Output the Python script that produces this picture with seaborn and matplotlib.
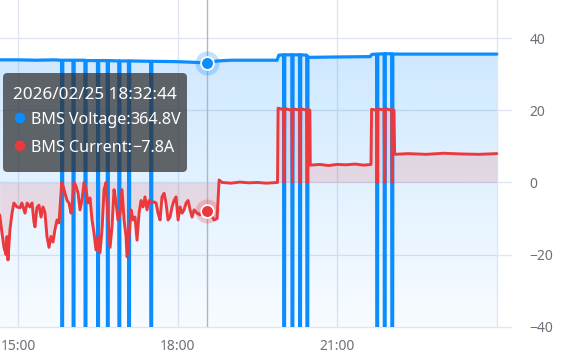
import numpy as np
import pandas as pd
import matplotlib
matplotlib.use("Agg")
import matplotlib.pyplot as plt
import matplotlib.dates as mdates
from matplotlib.patches import FancyBboxPatch
import seaborn as sns

# ---------------- data ----------------
DAY = "2026-02-25"

volt_times = ["14:39:00", "15:00:00", "15:20:00", "15:40:00",
              "15:48:50", "15:49:30", "15:50:10",
              "16:01:40", "16:02:20", "16:03:00",
              "16:15:10", "16:15:50", "16:16:30",
              "16:29:20", "16:30:00", "16:30:40",
              "16:40:20", "16:41:00", "16:41:40",
              "16:53:20", "16:54:00", "16:54:40",
              "17:04:20", "17:05:00", "17:05:40",
              "17:29:20", "17:30:00", "17:30:40",
              "18:00:00", "18:20:00", "18:32:44", "18:45:00", "19:00:00", "19:30:00",
              "19:52:00", "19:54:00",
              "19:59:20", "20:00:00", "20:00:40",
              "20:08:40", "20:09:20", "20:10:00",
              "20:17:20", "20:18:00", "20:18:40",
              "20:25:30", "20:26:10", "20:26:50",
              "20:29:00", "21:00:00", "21:37:00", "21:39:00",
              "21:44:20", "21:45:00", "21:45:40",
              "21:52:50", "21:53:30", "21:54:10",
              "22:01:20", "22:02:00", "22:02:40",
              "23:00:00", "24:00:00"]
volt_values = [34.0, 34.0, 33.9, 34.0,
               33.9, -200, 33.9,
               33.9, -200, 33.9,
               33.9, -200, 33.8,
               33.8, -200, 33.8,
               33.8, -200, 33.8,
               33.7, -200, 33.7,
               33.7, -200, 33.7,
               33.6, -200, 33.6,
               33.5, 33.3, 33.15, 33.7, 33.9, 33.9,
               33.9, 35.3,
               35.4, -200, 35.4,
               35.4, -200, 35.4,
               35.4, -200, 35.4,
               35.3, -200, 34.8,
               34.7, 34.8, 34.9, 35.5,
               35.6, -200, 35.6,
               35.7, -200, 35.7,
               35.7, -200, 35.6,
               35.6, 35.6]

curr_times = ["14:39:00", "14:41:35", "14:43:50", "14:46:05", "14:47:15", "14:48:20",
              "14:50:35", "14:52:55", "14:55:00", "14:58:30", "15:02:00", "15:04:00",
              "15:07:30", "15:10:00", "15:13:00", "15:15:30", "15:17:40", "15:18:50",
              "15:21:00", "15:23:20", "15:25:40", "15:27:50", "15:30:00", "15:32:20",
              "15:34:40", "15:36:50", "15:39:10", "15:41:25", "15:43:40", "15:45:55",
              "15:49:00", "15:50:25", "15:52:40", "15:55:00", "15:57:10", "15:59:30",
              "16:00:35", "16:02:50", "16:05:05", "16:07:25", "16:09:40", "16:11:55",
              "16:14:10", "16:16:25", "16:18:40", "16:20:55", "16:23:10", "16:25:25",
              "16:27:40", "16:30:00", "16:32:10", "16:34:30", "16:36:45", "16:39:00",
              "16:41:15", "16:43:30", "16:45:45", "16:48:00", "16:50:20", "16:52:30",
              "16:54:50", "16:57:00", "16:59:20", "17:01:35", "17:02:40", "17:04:55",
              "17:07:10", "17:09:30", "17:11:40", "17:14:00", "17:16:15", "17:18:30",
              "17:20:45", "17:23:00", "17:25:15", "17:27:30", "17:29:50", "17:33:10",
              "17:35:25", "17:37:40", "17:40:00", "17:42:10", "17:44:30", "17:46:40",
              "17:49:00", "17:51:15", "17:53:30", "17:55:45", "17:58:00", "18:00:20",
              "18:02:30", "18:04:50", "18:07:05", "18:09:20", "18:11:35", "18:13:50",
              "18:16:05", "18:18:20", "18:21:40", "18:25:05", "18:28:30", "18:32:44",
              "18:36:25", "18:40:55", "18:44:20", "18:46:35", "18:50:00", "19:00:00",
              "19:10:00", "19:20:00", "19:30:00", "19:40:00", "19:52:30",
              "19:53:10", "19:59:20", "20:00:00", "20:00:40",
              "20:08:40", "20:09:20", "20:10:00",
              "20:17:20", "20:18:00", "20:18:40",
              "20:25:30", "20:26:10", "20:26:50",
              "20:29:00", "20:29:30", "20:40:00", "20:50:00", "21:00:00", "21:10:00",
              "21:20:00", "21:30:00", "21:38:00",
              "21:38:40", "21:44:20", "21:45:00", "21:45:40",
              "21:52:50", "21:53:30", "21:54:10",
              "22:01:20", "22:02:00", "22:02:40",
              "22:04:00", "22:04:40", "22:20:00", "22:40:00", "23:00:00", "23:20:00",
              "23:40:00", "24:00:00"]
curr_values = [-9.0, -14.0, -18.0, -20.0, -15.0, -21.5,
               -13.0, -8.5, -5.7, -6.8, -7.0, -5.7,
               -8.5, -5.7, -6.8, -5.7, -11.0, -12.3,
               -7.0, -6.3, -9.6, -6.8, -8.2, -15.0,
               -18.0, -15.0, -16.5, -13.0, -10.4, -11.2,
               0.0, -1.0, -3.0, -5.0, -5.7, -8.5,
               -6.8, 0.0, -1.0, -3.0, -7.6, -4.8,
               0.0, -2.0, -5.7, -4.3, -10.4, -14.0,
               -18.7, -15.0, -19.5, -13.0, -2.0, 0.0,
               -10.4, -18.0, -12.3, -2.0, -5.7, -10.4,
               -8.5, -2.0, -10.4, -15.0, -20.6, -15.0,
               -7.6, -10.4, -9.6, -16.0, -8.5, -5.0,
               -6.8, -4.0, -7.6, -5.0, -5.7, -5.4,
               -5.7, -8.5, -10.4, -4.0, -3.0, -5.7,
               -10.4, -9.6, -6.8, -5.0, -4.0, -10.4,
               -6.8, -8.5, -7.6, -5.7, -5.0, -7.6,
               -9.6, -7.6, -8.5, -9.0, -7.0, -7.8,
               -8.5, -10.4, -10.0, 0.7, 0.0, -0.2,
               0.1, -0.1, 0.0, -0.2, 0.0,
               20.6, 20.2, 0.0, 20.5,
               20.0, 0.0, 20.4,
               20.1, 0.0, 20.5,
               20.0, 0.0, 20.3,
               20.0, 4.8, 5.0, 4.7, 5.0, 4.9,
               5.1, 4.8, 5.0,
               20.3, 20.0, 0.0, 20.4,
               20.1, 0.0, 20.5,
               20.0, 0.0, 20.2,
               20.0, 7.8, 8.0, 7.8, 8.1, 7.9,
               7.8, 8.0]

y_ticks = [-40, -20, 0, 20, 40]
x_tick_times = ["15:00:00", "18:00:00", "21:00:00"]
x_tick_labels = ["15:00", "18:00", "21:00"]
grid_times = ["15:00:00", "18:00:00", "21:00:00", "24:00:00"]

cursor_time = "18:32:44"
cursor_volt = 33.15
cursor_curr = -7.8
tooltip_title = "2026/02/25 18:32:44"
tooltip_rows = [("BMS Voltage:", "364.8V"), ("BMS Current:", "\u22127.8A")]

# ---------------- helpers ----------------
def to_dt(t):
    return pd.Timestamp(DAY) + pd.to_timedelta(t)

volt_dt = [to_dt(t) for t in volt_times]
curr_dt = [to_dt(t) for t in curr_times]
volt_df = pd.DataFrame({"time": volt_dt, "value": volt_values})
curr_df = pd.DataFrame({"time": curr_dt, "value": curr_values})

BLUE = "#0b8cff"
RED = "#ea3a3e"
GRID = "#e0e6f1"
LABEL = "#6e7079"

sns.set_theme(style="white")
plt.rcParams["font.family"] = ["Noto Sans", "DejaVu Sans"]

W, H = 570, 361
fig = plt.figure(figsize=(W / 100, H / 100), dpi=100)
ax_left, ax_right, ax_top, ax_bottom = 0, 511, 0, 326.7
ax = fig.add_axes([ax_left / W, (H - ax_bottom) / H, (ax_right - ax_left) / W, (ax_bottom - ax_top) / H])

xmin = mdates.date2num(to_dt("14:39:20"))
xmax = mdates.date2num(to_dt("24:16:00"))
ymin, ymax = -40, 50.6

# grid
for gy in y_ticks:
    ax.axhline(gy, color=GRID, lw=1, zorder=0.5, clip_on=False)
for gt in grid_times:
    ax.axvline(mdates.date2num(to_dt(gt)), color=GRID, lw=1, zorder=0.5)

# blue gradient area
vx = mdates.date2num(volt_dt)
poly = ax.fill_between(vx, volt_values, ymin, facecolor="none", edgecolor="none")
n = 256
rgba = np.zeros((n, 1, 4))
rgba[..., 0] = 11 / 255
rgba[..., 1] = 140 / 255
rgba[..., 2] = 1.0
rgba[:, 0, 3] = np.linspace(0.20, 0.03, n)
im = ax.imshow(rgba, extent=[xmin, xmax, ymin, 36.0], aspect="auto", origin="upper", zorder=1)
im.set_clip_path(poly.get_paths()[0], ax.transData)

# red area to zero
cx = mdates.date2num(curr_dt)
ax.fill_between(cx, curr_values, 0, color=RED, alpha=0.14, lw=0, zorder=1.5)

# crosshair
ct = mdates.date2num(to_dt(cursor_time))
ax.axvline(ct, color="#b5b5b8", lw=1, zorder=2)

# lines
sns.lineplot(data=volt_df, x="time", y="value", ax=ax, color=BLUE, lw=2.3,
             estimator=None, sort=False, zorder=3)
sns.lineplot(data=curr_df, x="time", y="value", ax=ax, color=RED, lw=2.1,
             estimator=None, sort=False, zorder=4)

# cursor markers
for val, col in [(cursor_volt, BLUE), (cursor_curr, RED)]:
    ax.scatter([ct], [val], s=300, color=col, alpha=0.25, lw=0, zorder=5)
    ax.scatter([ct], [val], s=85, color=col, edgecolor="white", linewidth=1.3, zorder=6)

ax.set_xlim(xmin, xmax)
ax.set_ylim(ymin, ymax)
ax.set_xlabel("")
ax.set_ylabel("")
for s in ax.spines.values():
    s.set_visible(False)
ax.patch.set_alpha(0)

ax.set_xticks([mdates.date2num(to_dt(t)) for t in x_tick_times])
ax.set_xticklabels(x_tick_labels)
ax.yaxis.tick_right()
ax.set_yticks(y_ticks)
ax.set_yticklabels([str(v).replace("-", "\u2212") for v in y_ticks])
ax.tick_params(axis="both", length=0, labelsize=10, labelcolor=LABEL)
ax.tick_params(axis="y", pad=13.5)
ax.tick_params(axis="x", pad=9)
ax.grid(False)

# tooltip
box = FancyBboxPatch((3 / 100, (H - 172) / 100), 184 / 100, 99 / 100,
                     boxstyle="round,pad=0,rounding_size=0.045",
                     transform=fig.dpi_scale_trans, facecolor=(0.2, 0.2, 0.2), alpha=0.74,
                     edgecolor="none", zorder=10)
fig.add_artist(box)
fig.text(13 / 100, (H - 99.3) / 100, tooltip_title, transform=fig.dpi_scale_trans,
         color="white", fontsize=12.3, va="baseline", ha="left", zorder=11)
fig.canvas.draw()
renderer = fig.canvas.get_renderer()
row_base = [124, 151.7]
row_cols = [BLUE, RED]
for (lab, val), yb, col in zip(tooltip_rows, row_base, row_cols):
    fig.add_artist(plt.Circle((20 / 100, (H - (yb - 6)) / 100), 4.6 / 100, color=col,
                              transform=fig.dpi_scale_trans, zorder=11))
    t = fig.text(31 / 100, (H - yb) / 100, lab, transform=fig.dpi_scale_trans,
                 color="white", fontsize=11.6, va="baseline", ha="left", zorder=11)
    bb = t.get_window_extent(renderer)
    fig.text(bb.x1 / 100, (H - yb) / 100, val, transform=fig.dpi_scale_trans,
             color="white", fontsize=11.6, fontweight="bold", va="baseline", ha="left", zorder=11)

fig.savefig("out.png", dpi=100)
